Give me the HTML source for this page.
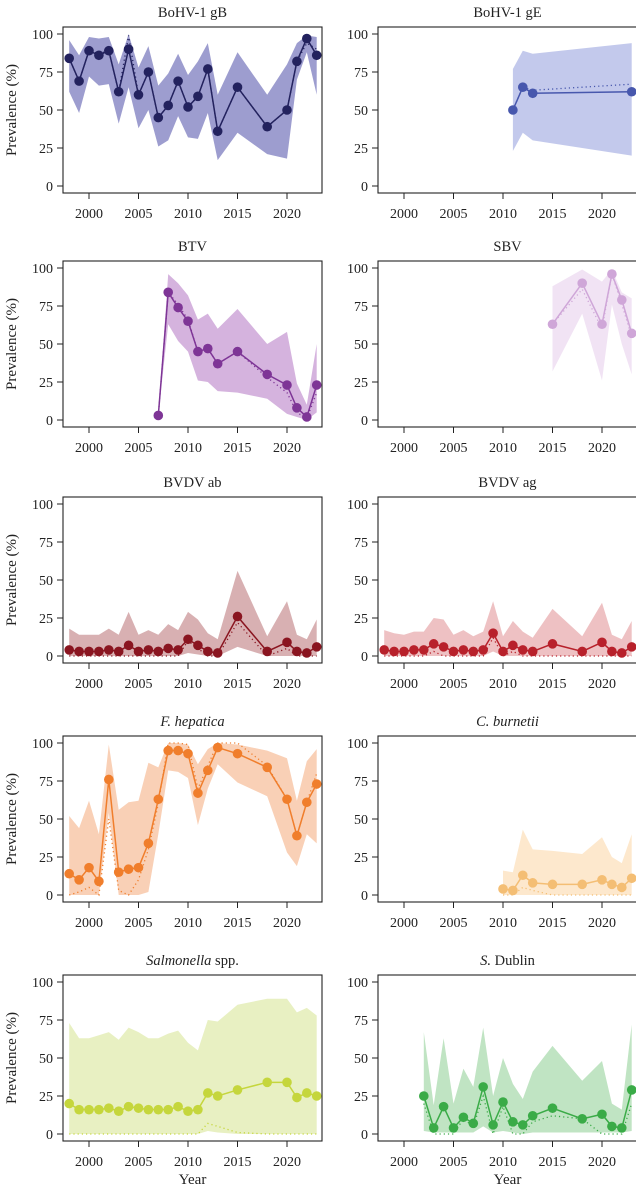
<!DOCTYPE html>
<html><head><meta charset="utf-8">
<style>
html,body{margin:0;padding:0;background:#fff;}
svg{display:block;font-family:"Liberation Serif",serif;}
</style></head>
<body>
<svg id="chart" width="636" height="1189" viewBox="0 0 636 1189" xmlns="http://www.w3.org/2000/svg"></svg>
<script>
const Y22 = [1998,1999,2000,2001,2002,2003,2004,2005,2006,2007,2008,2009,2010,2011,2012,2013,2015,2018,2020,2021,2022,2023];

const gbYears = Y22;
const gbMean = [84,69,89,86,89,62,90,60,75,45,53,69,52,59,77,36,65,39,50,82,97,86];
const gbMed  = [84,69,89,87,89,62,99,60,75,45,53,69,52,59,77,36,65,39,50,82,94,90];
const gbLo   = [62,48,72,66,67,41,65,38,50,26,30,46,32,31,48,17,35,21,18,70,88,60];
const gbHi   = [96,86,98,97,98,80,100,78,92,66,74,87,73,82,94,60,88,60,80,94,99,98];

const geYears = [2011,2012,2013,2023];
const geMean = [50,65,61,62];
const geMed  = [50,65,63,67];
const geLo   = [23,35,30,20];
const geHi   = [77,89,87,94];

const btvYears = [2007,2008,2009,2010,2011,2012,2013,2015,2018,2020,2021,2022,2023];
const btvMean = [3,84,74,65,45,47,37,45,30,23,8,2,23];
const btvMed  = [3,84,76,66,45,47,37,45,28,18,5,1,18];
const btvLo   = [3,63,52,45,26,25,19,18,14,4,2,0,5];
const btvHi   = [3,96,90,82,66,70,60,73,50,58,24,10,50];

const sbvYears = [2015,2018,2020,2021,2022,2023];
const sbvMean = [63,90,63,96,79,57];
const sbvMed  = [63,86,60,96,76,55];
const sbvLo   = [32,70,26,76,50,30];
const sbvHi   = [88,99,91,99,84,80];

const abYears = Y22;
const abMean = [4,3,3,3,4,3,7,3,4,3,5,4,11,7,3,2,26,3,9,3,2,6];
const abMed  = [0,0,0,0,0,0,0,0,0,0,0,0,10,5,0,0,22,0,5,0,0,0];
const abLo   = [0,0,0,0,0,0,0,0,0,0,0,0,2,1,0,0,6,0,0,0,0,0];
const abHi   = [18,14,14,14,18,14,29,14,17,14,21,17,29,24,15,11,56,13,36,14,11,24];

const agYears = Y22;
const agMean = [4,3,3,4,4,8,6,3,4,3,4,15,3,7,4,3,8,3,9,3,2,6];
const agMed  = [0,0,0,0,0,3,0,0,0,0,0,12,0,3,0,0,0,0,0,0,0,0];
const agLo   = [0,0,0,0,0,0,0,0,0,0,0,3,0,0,0,0,0,0,0,0,0,0];
const agHi   = [17,15,14,16,16,25,24,14,17,13,16,36,13,23,16,12,31,13,35,14,11,23];

const fhYears = Y22;
const fhMean = [14,10,18,9,76,15,17,18,34,63,95,95,93,67,82,97,93,84,63,39,61,73];
const fhMed  = [0,2,5,0,50,3,0,10,30,60,100,100,99,70,85,100,100,85,63,39,61,80];
const fhLo   = [0,0,0,0,54,0,0,0,2,40,82,81,77,46,70,86,74,65,28,19,40,34];
const fhHi   = [52,44,62,40,99,56,61,62,87,84,100,100,99,86,96,100,99,95,90,62,88,96];

const cbYears = [2010,2011,2012,2013,2015,2018,2020,2021,2022,2023];
const cbMean = [4,3,13,8,7,7,10,7,5,11];
const cbMed  = [0,0,5,3,0,0,0,0,0,0];
const cbLo   = [0,0,0,0,0,0,0,0,0,0];
const cbHi   = [16,15,43,30,29,27,38,25,21,40];

const saYears = Y22;
const saMean = [20,16,16,16,17,15,18,17,16,16,16,18,15,16,27,25,29,34,34,24,27,25];
const saMed  = [0,0,0,0,0,0,0,0,0,0,0,0,0,0,7,5,1,0,0,0,0,0];
const saLo   = [0,0,0,0,0,0,0,0,0,0,0,0,0,0,2,1,0,0,0,0,0,0];
const saHi   = [73,63,63,65,67,62,70,67,63,63,66,68,60,55,75,74,85,89,89,80,83,78];

const sdYears = [2002,2003,2004,2005,2006,2007,2008,2009,2010,2011,2012,2013,2015,2018,2020,2021,2022,2023];
const sdMean = [25,4,18,4,11,7,31,6,21,8,6,12,17,10,13,5,4,29];
const sdMed  = [20,0,0,0,10,5,25,0,18,0,0,8,12,10,0,0,0,20];
const sdLo   = [2,1,1,1,1,1,5,1,2,1,0,1,1,1,1,1,1,2];
const sdHi   = [67,19,63,20,43,31,70,25,50,33,23,41,58,35,48,20,16,72];

const xTicks = [2000,2005,2010,2015,2020];
const yTicks = [0,25,50,75,100];

const panels = [
 {name:'bohv-1-gb',title:'BoHV-1 gB',italic:'',col:0,row:0,line:'#23225e',band:'#9d9dcf',x:gbYears,m:gbMean,d:gbMed,lo:gbLo,hi:gbHi},
 {name:'bohv-1-ge',title:'BoHV-1 gE',italic:'',col:1,row:0,line:'#4757ad',band:'#c3c9ec',x:geYears,m:geMean,d:geMed,lo:geLo,hi:geHi},
 {name:'btv',title:'BTV',italic:'',col:0,row:1,line:'#7e3596',band:'#d5b3de',x:btvYears,m:btvMean,d:btvMed,lo:btvLo,hi:btvHi},
 {name:'sbv',title:'SBV',italic:'',col:1,row:1,line:'#cfa6d8',band:'#f1e3f4',x:sbvYears,m:sbvMean,d:sbvMed,lo:sbvLo,hi:sbvHi},
 {name:'bvdv-ab',title:'BVDV ab',italic:'',col:0,row:2,line:'#8a1520',band:'#d8b0b2',x:abYears,m:abMean,d:abMed,lo:abLo,hi:abHi},
 {name:'bvdv-ag',title:'BVDV ag',italic:'',col:1,row:2,line:'#b8212b',band:'#eec1c3',x:agYears,m:agMean,d:agMed,lo:agLo,hi:agHi},
 {name:'f-hepatica',title:'',italic:'F. hepatica',col:0,row:3,line:'#f07e2c',band:'#f9d0b6',x:fhYears,m:fhMean,d:fhMed,lo:fhLo,hi:fhHi},
 {name:'c-burnetii',title:'',italic:'C. burnetii',col:1,row:3,line:'#f4be74',band:'#fde8cd',x:cbYears,m:cbMean,d:cbMed,lo:cbLo,hi:cbHi},
 {name:'salmonella-spp',title:' spp.',italic:'Salmonella',col:0,row:4,line:'#c5d63c',band:'#e8f0c2',x:saYears,m:saMean,d:saMed,lo:saLo,hi:saHi},
 {name:'s-dublin',title:' Dublin',italic:'S.',col:1,row:4,line:'#3aab47',band:'#c0e4c3',x:sdYears,m:sdMean,d:sdMed,lo:sdLo,hi:sdHi}
];
const rowTop = [34,268,504,743,982];
const NS='http://www.w3.org/2000/svg';
const svg=document.getElementById('chart');
function mk(tag,attrs,parent){const e=document.createElementNS(NS,tag);for(const k in attrs)e.setAttribute(k,attrs[k]);(parent||svg).appendChild(e);return e;}
function xScale(yr,col){return 89+col*315+(yr-2000)*9.9;}
function yScale(v,row){return rowTop[row]+152*(1-v/100);}

panels.forEach(p=>{
  const g=mk('g',{});
  
  
  const fx0=63+p.col*315, fx1=322+p.col*315;
  const fy0=rowTop[p.row]-7, fy1=rowTop[p.row]+159;
  const cx=(fx0+fx1)/2;
  let pts=[];
  p.x.forEach((yr,i)=>pts.push(xScale(yr,p.col)+','+yScale(p.hi[i],p.row)));
  for(let i=p.x.length-1;i>=0;i--)pts.push(xScale(p.x[i],p.col)+','+yScale(p.lo[i],p.row));
  const band=mk('polygon',{points:pts.join(' '),fill:p.band,stroke:'none'},g);
  
  
  const dl=mk('polyline',{points:p.x.map((yr,i)=>xScale(yr,p.col)+','+yScale(p.d[i],p.row)).join(' '),fill:'none',stroke:p.line,'stroke-width':1.3,'stroke-dasharray':'1.2 3'},g);
  
  
  const ml=mk('polyline',{points:p.x.map((yr,i)=>xScale(yr,p.col)+','+yScale(p.m[i],p.row)).join(' '),fill:'none',stroke:p.line,'stroke-width':1.5},g);
  
  
  p.x.forEach((yr,i)=>{
    const c=mk('circle',{cx:xScale(yr,p.col),cy:yScale(p.m[i],p.row),r:4.8,fill:p.line},g);
    
    
  });
  const fr=mk('rect',{x:fx0,y:fy0,width:fx1-fx0,height:fy1-fy0,fill:'none',stroke:'#222','stroke-width':1.1},g);
  
  
  yTicks.forEach(t=>{
    const y=yScale(t,p.row);
    mk('line',{x1:fx0-6,x2:fx0,y1:y,y2:y,stroke:'#222','stroke-width':1},g);
    const tx=mk('text',{x:fx0-10,y:y+5,'text-anchor':'end','font-size':14,fill:'#222'},g);
    tx.textContent=t;
    
    
  });
  xTicks.forEach(t=>{
    const x=xScale(t,p.col);
    mk('line',{x1:x,x2:x,y1:fy1,y2:fy1+6,stroke:'#222','stroke-width':1},g);
    const tx=mk('text',{x:x,y:fy1+25,'text-anchor':'middle','font-size':14,fill:'#222'},g);
    tx.textContent=t;
    
    
  });
  const tt=mk('text',{x:cx,y:fy0-10,'text-anchor':'middle','font-size':14.5,fill:'#222'},g);
  
  
  if(p.italic){const s=mk('tspan',{'font-style':'italic'},tt);s.textContent=p.italic;}
  if(p.title){const s=mk('tspan',{},tt);s.textContent=p.title;}
  if(p.col===0){
    const yl=mk('text',{x:0,y:0,'text-anchor':'middle','font-size':15,fill:'#222',transform:'translate(16,'+(rowTop[p.row]+76)+') rotate(-90)'},g);
    yl.textContent='Prevalence (%)';
    
    
  }
  if(p.row===4){
    const xl=mk('text',{x:cx,y:1184,'text-anchor':'middle','font-size':15,fill:'#222'},g);
    xl.textContent='Year';
    
    
  }
});
</script>
</body></html>
